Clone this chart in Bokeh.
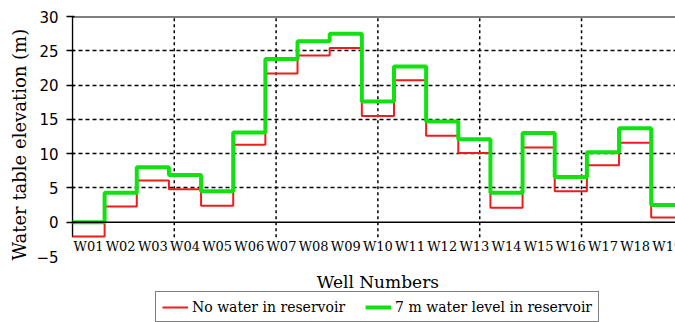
from bokeh.plotting import figure
from bokeh.models import FixedTicker, Span, Legend, LegendItem, Range1d, Title
from bokeh.core.properties import value
from bokeh.embed import file_html
from bokeh.resources import INLINE

# ---- data ----
wells = [f"W{i:02d}" for i in range(1, 20)]
no_water = [-2.1, 2.3, 6.1, 4.8, 2.4, 11.3, 21.7, 24.3, 25.4, 15.5,
            20.7, 12.6, 10.1, 2.1, 10.9, 4.5, 8.3, 11.6, 0.7]
water_7m = [0.0, 4.3, 8.0, 6.9, 4.5, 13.1, 23.8, 26.4, 27.5, 17.6,
            22.7, 14.7, 12.1, 4.3, 13.0, 6.6, 10.2, 13.7, 2.5]
y_ticks = [0, 5, 10, 15, 20, 25, 30]
y_label_ticks = [-5, 0, 5, 10, 15, 20, 25, 30]

n = len(wells)
step_x = list(range(n + 1))
red_y = no_water + [no_water[-1]]
green_y = water_7m + [water_7m[-1]]
label_x = [i + 0.5 for i in range(n)]
grid_x = [k * n / 6 for k in range(1, 6)]
y_bottom_line = -2.2
y_well_labels = -3.5
y_x_title = -8.65
x_start = -0.03

SERIF = "DejaVu Serif"
SANS = "DejaVu Sans"

p = figure(frame_width=604, frame_height=306, output_backend="svg", toolbar_location=None,
           x_range=Range1d(x_start, 18.756), y_range=Range1d(-14.625, 30),
           x_axis_location=None,
           min_border_left=71, min_border_right=0, min_border_top=16,
           min_border_bottom=0)
p.outline_line_color = None
p.background_fill_color = "white"
p.border_fill_color = "white"

# grids
for g in p.xgrid:
    g.visible = False
p.segment(x0=grid_x, y0=[y_bottom_line] * len(grid_x), x1=grid_x, y1=[30] * len(grid_x),
          line_color="black", line_dash="3 3", line_width=1.5)
p.ygrid.ticker = FixedTicker(ticks=[5, 10, 15, 20, 25])
p.ygrid.grid_line_color = "black"
p.ygrid.grid_line_dash = "4 3"
p.ygrid.grid_line_width = 1.5

p.add_layout(Span(location=0, dimension="width", line_color="black", line_width=1.5))
p.add_layout(Span(location=30, dimension="width", line_color="black", line_width=2))
# left axis line (ends at the bottom of the plotted region)
p.segment(x0=[0], y0=[y_bottom_line], x1=[0], y1=[30], line_color="black", line_width=1.5)

# lines
r_red = p.step(step_x, red_y, mode="after", line_color="#ee1c1c", line_width=2)
r_green = p.step(step_x, green_y, mode="after", line_color="#11e011", line_width=4)

# well labels
p.text(x=label_x, y=[y_well_labels] * n, text=wells, text_align="center",
       text_baseline="middle", text_font=value(SERIF), text_font_size="13px",
       text_color="black")
# x axis title
p.text(x=[n / 2], y=[y_x_title], text=["Well Numbers"], text_align="center",
       text_baseline="middle", text_font=value(SERIF), text_font_size="17px",
       text_color="black")

# y axis: labels at -5..30, tick marks (as minor ticks) at 0..30
ya = p.yaxis[0]
ya.ticker = FixedTicker(ticks=y_label_ticks, minor_ticks=y_ticks)
ya.axis_line_color = None
ya.major_tick_line_color = None
ya.major_tick_out = 0
ya.major_tick_in = 0
ya.minor_tick_line_color = "black"
ya.minor_tick_line_width = 1.5
ya.minor_tick_out = 5
ya.minor_tick_in = 3
ya.major_label_text_font = SANS
ya.major_label_text_font_size = "15px"
ya.major_label_text_color = "black"
ya.major_label_standoff = 8

ytitle = Title(text="Water table elevation (m)", align="left", offset=62, standoff=8,
               text_font=SERIF, text_font_style="normal", text_font_size="18px",
               text_color="black")
p.add_layout(ytitle, "left")

legend = Legend(items=[LegendItem(label="No water in reservoir", renderers=[r_red]),
                       LegendItem(label="7 m water level in reservoir", renderers=[r_green])],
                orientation="horizontal", location=(84, 0))
legend.label_text_font = SERIF
legend.label_text_font_size = "14px"
legend.label_text_color = "black"
legend.label_height = 17
legend.border_line_color = "black"
legend.border_line_width = 1
legend.glyph_width = 26
legend.glyph_height = 14
legend.padding = 6
legend.spacing = 20
legend.label_standoff = 4
legend.margin = 0
legend.background_fill_alpha = 1
p.add_layout(legend, "center")

open("out.html", "w").write(file_html(p, INLINE))
